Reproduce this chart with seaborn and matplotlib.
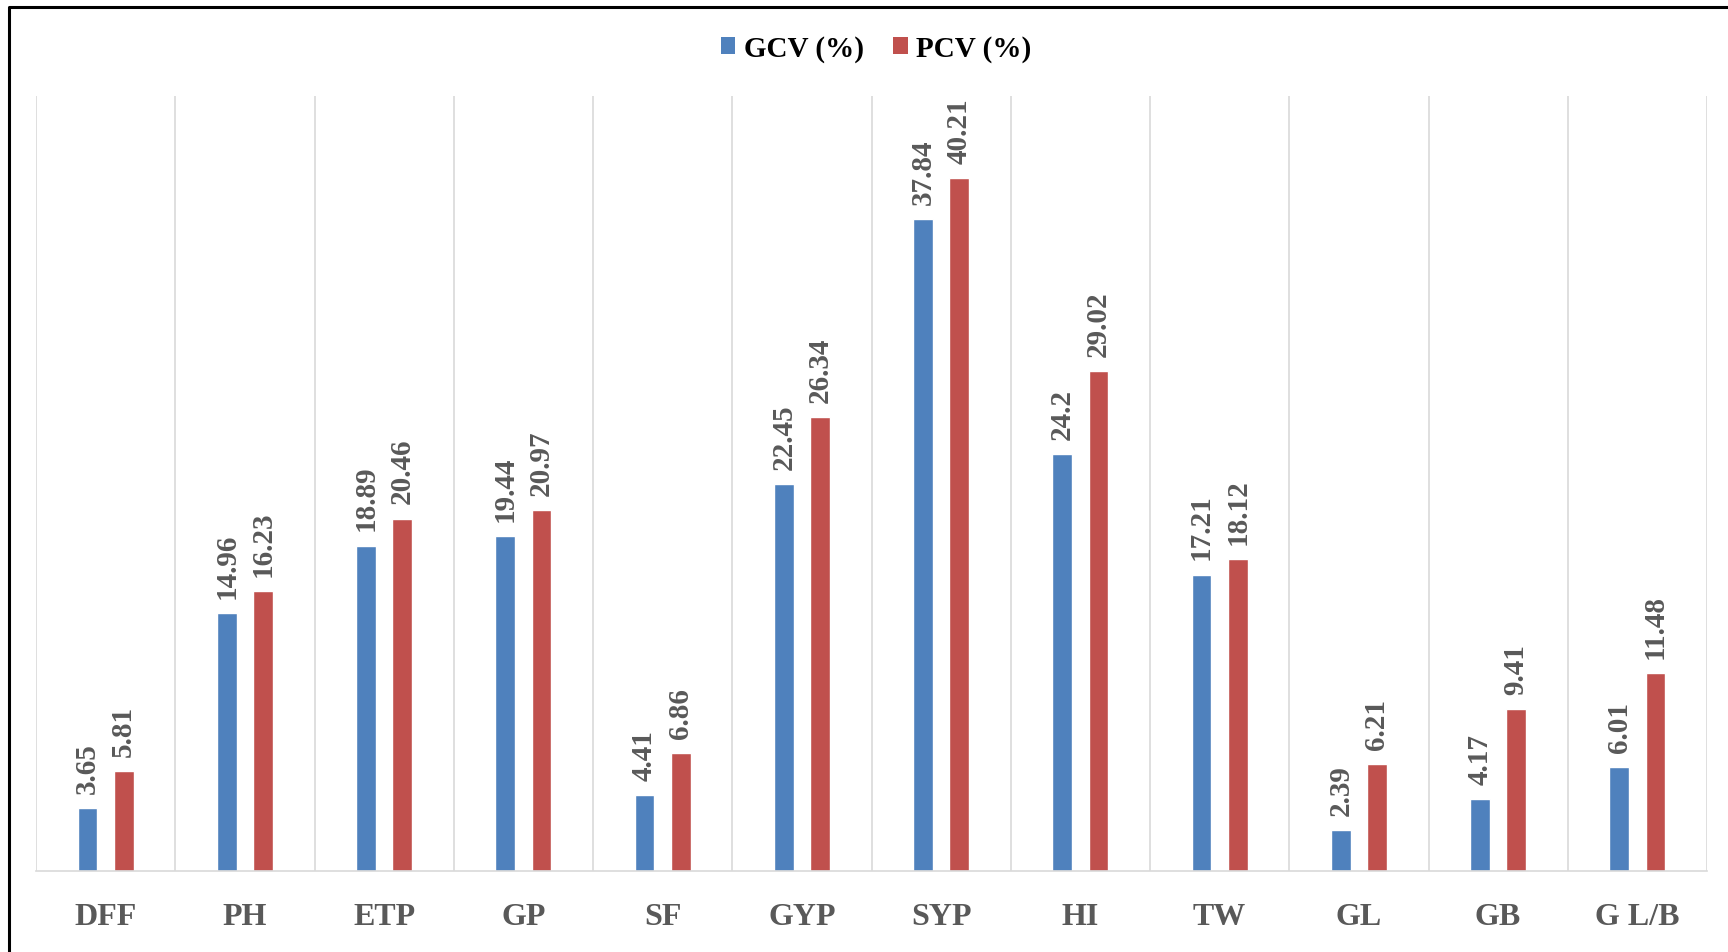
import matplotlib
matplotlib.use("Agg")
import matplotlib.pyplot as plt
from matplotlib.lines import Line2D
from matplotlib.patches import Patch
import seaborn as sns
import pandas as pd

# Trait abbreviations and coefficients of variation (%)
traits = ["DFF", "PH", "ETP", "GP", "SF", "GYP", "SYP", "HI", "TW", "GL", "GB", "G L/B"]
gcv = [3.65, 14.96, 18.89, 19.44, 4.41, 22.45, 37.84, 24.2, 17.21, 2.39, 4.17, 6.01]
pcv = [5.81, 16.23, 20.46, 20.97, 6.86, 26.34, 40.21, 29.02, 18.12, 6.21, 9.41, 11.48]
series = ["GCV (%)", "PCV (%)"]

df = pd.DataFrame({
    "trait": traits * 2,
    "value": gcv + pcv,
    "series": [series[0]] * len(traits) + [series[1]] * len(traits),
})

sns.set_theme(style="white")
plt.rcParams["font.family"] = ["Liberation Serif", "DejaVu Serif"]
plt.rcParams["font.weight"] = "bold"

colors = {series[0]: "#4F81BD", series[1]: "#C0504D"}
label_grey = "#595959"

fig = plt.figure(figsize=(17.28, 9.53), dpi=100)
ax = fig.add_axes([36 / 1728, 81 / 953, (1707 - 36) / 1728, (872 - 97) / 953])

sns.barplot(data=df, x="trait", y="value", hue="series", order=traits,
            hue_order=series, palette=colors, width=0.52, gap=0.45,
            saturation=1, legend=False, ax=ax)

ax.set_xlim(-0.5, len(traits) - 0.5)
ax.set_ylim(0, 45)
ax.set_xlabel("")
ax.set_ylabel("")
ax.set_yticks([])

# Vertical separators between trait groups
ax.set_xticks([i + 0.5 for i in range(-1, len(traits))], minor=True)
ax.grid(False)
ax.grid(True, which="minor", axis="x", color="#D9D9D9", linewidth=1.2)
ax.tick_params(axis="x", which="both", length=0)
ax.tick_params(axis="x", which="major", pad=22)
for lbl in ax.get_xticklabels():
    lbl.set_fontsize(23)
    lbl.set_fontweight("bold")
    lbl.set_color(label_grey)

for side in ["top", "left", "right"]:
    ax.spines[side].set_visible(False)
ax.spines["bottom"].set_color("#D9D9D9")
ax.spines["bottom"].set_linewidth(1.2)

for cont in ax.containers:
    vals = [b.get_height() for b in cont]
    ax.bar_label(cont, labels=[f"{v:g}" for v in vals], rotation=90,
                 padding=11, fontsize=21, fontweight="bold", color=label_grey)

handles = [Patch(facecolor=colors[s], edgecolor="none", label=s) for s in series]
fig.legend(handles=handles, loc="center", bbox_to_anchor=(0.507, 0.948),
           ncol=2, frameon=False, handlelength=0.5, handleheight=0.55,
           handletextpad=0.3, columnspacing=1.0, labelcolor="black",
           prop={"family": "Liberation Serif", "weight": "bold", "size": 21})

# Frame line along the top and left of the figure
fig.add_artist(Line2D([8.5 / 1728, 8.5 / 1728, 1.0], [0.0, 1 - 7.5 / 953, 1 - 7.5 / 953],
                      transform=fig.transFigure, color="black", linewidth=2.2))

fig.savefig("out.png", dpi=100, facecolor="white")
